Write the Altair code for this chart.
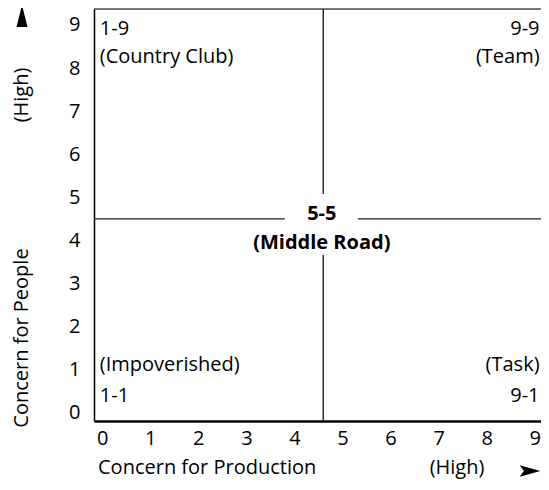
import altair as alt
import pandas as pd

# ---- data ----
tick_values = [0, 1, 2, 3, 4, 5, 6, 7, 8, 9]
x_domain = [-0.17, 9.13]
y_domain = [-0.19, 9.37]

# quadrant labels (text, x, y, align)
q_text = ["1-9", "(Country Club)", "9-9", "(Team)",
          "(Impoverished)", "1-1", "(Task)", "9-1"]
q_x = [-0.05, -0.05, 9.1, 9.1, -0.05, -0.05, 9.1, 9.1]
q_y = [8.9, 8.25, 8.9, 8.25, 1.1, 0.4, 1.1, 0.4]
q_align = ["left", "left", "right", "right", "left", "left", "right", "right"]

mid_text = ["5-5", "(Middle Road)"]
mid_x = [4.57, 4.57]
mid_y = [4.62, 3.95]

# line segments of the centre cross (broken around the 5-5 label)
seg_x = [4.6, 4.6, -0.17, 5.32]
seg_x2 = [4.6, 4.6, 3.8, 9.13]
seg_y = [-0.19, 5.08, 4.5, 4.5]
seg_y2 = [3.66, 9.37, 4.5, 4.5]

FONT = "Open Sans"
FS = 20
W, H = 447, 412

xs = alt.Scale(domain=x_domain, nice=False, zero=False)
ys = alt.Scale(domain=y_domain, nice=False, zero=False)

base_df = pd.DataFrame({"x": [0], "y": [0]})

axes = alt.Chart(base_df).mark_point(opacity=0).encode(
    x=alt.X("x:Q", scale=xs, axis=alt.Axis(values=tick_values, title=None, grid=False, ticks=False,
                                            labelFont=FONT, labelFontSize=FS, labelColor="black",
                                            labelPadding=7, domainColor="black", domainWidth=2.5,
                                            labelFlush=False)),
    y=alt.Y("y:Q", scale=ys, axis=alt.Axis(values=tick_values, title=None, grid=False, ticks=False,
                                            labelFont=FONT, labelFontSize=FS, labelColor="black",
                                            labelPadding=14, domainColor="black", domainWidth=1.5,
                                            labelFlush=False)),
)

top = alt.Chart(base_df).mark_rule(color="black", strokeWidth=1.2).encode(
    y=alt.datum(y_domain[1], scale=ys)
)

segs = alt.Chart(pd.DataFrame({"x": seg_x, "x2": seg_x2, "y": seg_y, "y2": seg_y2})).mark_rule(
    color="#222", strokeWidth=1.4
).encode(
    x=alt.X("x:Q", scale=xs), x2="x2:Q", y=alt.Y("y:Q", scale=ys), y2="y2:Q"
)

qdf = pd.DataFrame({"t": q_text, "x": q_x, "y": q_y, "a": q_align})
q_left = alt.Chart(qdf[qdf.a == "left"]).mark_text(align="left", font=FONT, fontSize=FS, color="black").encode(
    x=alt.X("x:Q", scale=xs), y=alt.Y("y:Q", scale=ys), text="t:N")
q_right = alt.Chart(qdf[qdf.a == "right"]).mark_text(align="right", font=FONT, fontSize=FS, color="black").encode(
    x=alt.X("x:Q", scale=xs), y=alt.Y("y:Q", scale=ys), text="t:N")

mid = alt.Chart(pd.DataFrame({"t": mid_text, "x": mid_x, "y": mid_y})).mark_text(
    align="center", font=FONT, fontSize=FS, fontWeight="bold", color="black").encode(
    x=alt.X("x:Q", scale=xs), y=alt.Y("y:Q", scale=ys), text="t:N")

# outer annotations (axis titles, "High" markers, arrows)
ann_style = dict(font=FONT, fontSize=FS, color="black")
ytitle = alt.Chart(base_df).mark_text(angle=270, align="center", baseline="middle", **ann_style).encode(
    x=alt.value(-72), y=alt.value(329), text=alt.value("Concern for People"))
yhigh = alt.Chart(base_df).mark_text(angle=270, align="center", baseline="middle", **ann_style).encode(
    x=alt.value(-72), y=alt.value(86), text=alt.value("(High)"))
xtitle = alt.Chart(base_df).mark_text(align="left", baseline="middle", **ann_style).encode(
    x=alt.value(4), y=alt.value(459), text=alt.value("Concern for Production"))
xhigh = alt.Chart(base_df).mark_text(align="center", baseline="middle", **ann_style).encode(
    x=alt.value(363), y=alt.value(459), text=alt.value("(High)"))
up_arrow = alt.Chart(base_df).mark_point(shape="M0,-1L0.5,1L-0.5,1Z", filled=True, color="black",
                                         opacity=1, size=480).encode(
    x=alt.value(-72), y=alt.value(7))
right_arrow = alt.Chart(base_df).mark_point(shape="M1,0L-1,0.55L-0.6,0L-1,-0.55Z", filled=True,
                                            color="black", opacity=1, size=420).encode(
    x=alt.value(436), y=alt.value(462))

chart = alt.layer(axes, top, segs, q_left, q_right, mid, ytitle, yhigh, xtitle, xhigh,
                  up_arrow, right_arrow).properties(
    width=W, height=H,
    autosize=alt.AutoSizeParams(type="none"),
    padding={"left": 86, "top": 1, "right": 0, "bottom": 61},
).configure_view(stroke=None).configure(background="white")

chart.save("out.html", embed_options={"renderer": "svg", "actions": False})
